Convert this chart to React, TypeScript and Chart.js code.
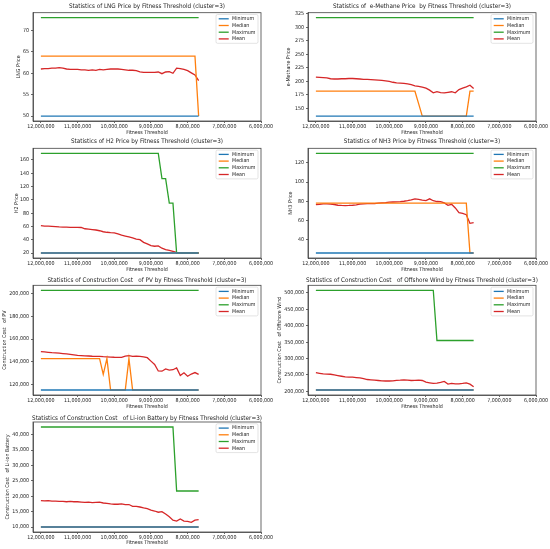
import React, { useEffect, useRef } from "react";
import { Chart, registerables } from "chart.js";

Chart.register(...registerables);

// ---------------- DATA ----------------
const thresholds = [
  12000000, 11900000, 11800000, 11700000, 11600000, 11500000, 11400000, 11300000, 11200000, 11100000,
  11000000, 10900000, 10800000, 10700000, 10600000, 10500000, 10400000, 10300000, 10200000, 10100000,
  10000000, 9900000, 9800000, 9700000, 9600000, 9500000, 9400000, 9300000, 9200000, 9100000,
  9000000, 8900000, 8800000, 8700000, 8600000, 8500000, 8400000, 8300000, 8200000, 8100000,
  8000000, 7900000, 7800000, 7700000,
];
const xTickValues = [6000000, 7000000, 8000000, 9000000, 10000000, 11000000, 12000000];

// LNG Price
const lngMin = [
  50, 50, 50, 50, 50, 50, 50, 50, 50, 50,
  50, 50, 50, 50, 50, 50, 50, 50, 50, 50,
  50, 50, 50, 50, 50, 50, 50, 50, 50, 50,
  50, 50, 50, 50, 50, 50, 50, 50, 50, 50,
  50, 50, 50, 50,
];
const lngMedian = [
  64, 64, 64, 64, 64, 64, 64, 64, 64, 64,
  64, 64, 64, 64, 64, 64, 64, 64, 64, 64,
  64, 64, 64, 64, 64, 64, 64, 64, 64, 64,
  64, 64, 64, 64, 64, 64, 64, 64, 64, 64,
  64, 64, 64, 50,
];
const lngMax = [
  73, 73, 73, 73, 73, 73, 73, 73, 73, 73,
  73, 73, 73, 73, 73, 73, 73, 73, 73, 73,
  73, 73, 73, 73, 73, 73, 73, 73, 73, 73,
  73, 73, 73, 73, 73, 73, 73, 73, 73, 73,
  73, 73, 73, 73,
];
const lngMean = [
  61.0, 61.1, 61.1, 61.2, 61.2, 61.3, 61.2, 61.0, 60.9, 60.9,
  60.9, 60.8, 60.8, 60.7, 60.8, 60.7, 60.9, 60.8, 60.9, 61.0,
  61.0, 61.0, 60.9, 60.8, 60.7, 60.7, 60.6, 60.3, 60.2, 60.2,
  60.2, 60.2, 60.3, 59.9, 60.3, 60.4, 60.0, 61.2, 61.1, 60.9,
  60.6, 60.1, 59.6, 58.3,
];

// e-Methane Price
const methMin = [
  136, 136, 136, 136, 136, 136, 136, 136, 136, 136,
  136, 136, 136, 136, 136, 136, 136, 136, 136, 136,
  136, 136, 136, 136, 136, 136, 136, 136, 136, 136,
  136, 136, 136, 136, 136, 136, 136, 136, 136, 136,
  136, 136, 136, 136,
];
const methMedian = [
  182, 182, 182, 182, 182, 182, 182, 182, 182, 182,
  182, 182, 182, 182, 182, 182, 182, 182, 182, 182,
  182, 182, 182, 182, 182, 182, 182, 182, 159, 136,
  136, 136, 136, 136, 136, 136, 136, 136, 136, 136,
  136, 136, 182, 182,
];
const methMax = [
  318, 318, 318, 318, 318, 318, 318, 318, 318, 318,
  318, 318, 318, 318, 318, 318, 318, 318, 318, 318,
  318, 318, 318, 318, 318, 318, 318, 318, 318, 318,
  318, 318, 318, 318, 318, 318, 318, 318, 318, 318,
  318, 318, 318, 318,
];
const methMean = [
  208, 207.5, 207, 206.5, 205, 204.5, 204.5, 205, 205, 205.5,
  205.5, 205, 204.5, 204, 204, 203.5, 203, 202.5, 202, 201,
  200, 198.5, 197.5, 197, 196.5, 195.5, 194, 192, 191, 189.5,
  187.5, 184, 179, 181, 179.5, 179, 180, 181, 179, 185,
  187.5, 190, 193, 187,
];

// H2 Price
const h2Min = [
  20, 20, 20, 20, 20, 20, 20, 20, 20, 20,
  20, 20, 20, 20, 20, 20, 20, 20, 20, 20,
  20, 20, 20, 20, 20, 20, 20, 20, 20, 20,
  20, 20, 20, 20, 20, 20, 20, 20, 20, 20,
  20, 20, 20, 20,
];
const h2Median = [
  20, 20, 20, 20, 20, 20, 20, 20, 20, 20,
  20, 20, 20, 20, 20, 20, 20, 20, 20, 20,
  20, 20, 20, 20, 20, 20, 20, 20, 20, 20,
  20, 20, 20, 20, 20, 20, 20, 20, 20, 20,
  20, 20, 20, 20,
];
const h2Max = [
  170, 170, 170, 170, 170, 170, 170, 170, 170, 170,
  170, 170, 170, 170, 170, 170, 170, 170, 170, 170,
  170, 170, 170, 170, 170, 170, 170, 170, 170, 170,
  170, 170, 170, 132, 132, 95, 95, 20, 20, 20,
  20, 20, 20, 20,
];
const h2Mean = [
  61.3, 60.5, 60.3, 60.0, 59.6, 59.2, 59.0, 58.8, 58.6, 58.5,
  58.5, 58.4, 56.5, 55.8, 55.2, 54.6, 53.5, 52.0, 51.2, 50.6,
  50.2, 48.8, 46.8, 45.5, 44.2, 42.8, 41.0, 40.0, 36.0, 33.8,
  31.0, 30.2, 30.8, 27.2, 25.0, 23.8, 22.5, 20.8, 20.2, 20.0,
  20.0, 20.0, 20.0, 20.0,
];

// NH3 Price
const nh3Min = [
  26, 26, 26, 26, 26, 26, 26, 26, 26, 26,
  26, 26, 26, 26, 26, 26, 26, 26, 26, 26,
  26, 26, 26, 26, 26, 26, 26, 26, 26, 26,
  26, 26, 26, 26, 26, 26, 26, 26, 26, 26,
  26, 26, 26, 26,
];
const nh3Median = [
  78, 78, 78, 78, 78, 78, 78, 78, 78, 78,
  78, 78, 78, 78, 78, 78, 78, 78, 78, 78,
  78, 78, 78, 78, 78, 78, 78, 78, 78, 78,
  78, 78, 78, 78, 78, 78, 78, 78, 78, 78,
  78, 78, 26, 26,
];
const nh3Max = [
  130, 130, 130, 130, 130, 130, 130, 130, 130, 130,
  130, 130, 130, 130, 130, 130, 130, 130, 130, 130,
  130, 130, 130, 130, 130, 130, 130, 130, 130, 130,
  130, 130, 130, 130, 130, 130, 130, 130, 130, 130,
  130, 130, 130, 130,
];
const nh3Mean = [
  76.5, 76.8, 77.2, 77.2, 77.0, 76.6, 75.8, 75.6, 75.5, 75.6,
  75.8, 76.3, 76.9, 77.3, 77.6, 77.5, 77.6, 78.0, 78.3, 78.6,
  79.0, 79.2, 79.4, 79.6, 80.0, 80.6, 81.4, 82.5, 82.0, 81.2,
  80.7, 82.5, 80.5, 79.7, 79.6, 78.3, 75.8, 76.8, 73.0, 68.0,
  67.3, 66.0, 56.9, 57.6,
];

// Construction Cost of PV
const pvMin = [
  115000, 115000, 115000, 115000, 115000, 115000, 115000, 115000, 115000, 115000,
  115000, 115000, 115000, 115000, 115000, 115000, 115000, 115000, 115000, 115000,
  115000, 115000, 115000, 115000, 115000, 115000, 115000, 115000, 115000, 115000,
  115000, 115000, 115000, 115000, 115000, 115000, 115000, 115000, 115000, 115000,
  115000, 115000, 115000, 115000,
];
const pvMedian = [
  142700, 142700, 142700, 142700, 142700, 142700, 142700, 142700, 142700, 142700,
  142700, 142700, 142700, 142700, 142700, 142700, 142700, 128800, 142700, 115000,
  115000, 115000, 115000, 115000, 142700, 115000, 115000, 115000, 115000, 115000,
  115000, 115000, 115000, 115000, 115000, 115000, 115000, 115000, 115000, 115000,
  115000, 115000, 115000, 115000,
];
const pvMax = [
  203000, 203000, 203000, 203000, 203000, 203000, 203000, 203000, 203000, 203000,
  203000, 203000, 203000, 203000, 203000, 203000, 203000, 203000, 203000, 203000,
  203000, 203000, 203000, 203000, 203000, 203000, 203000, 203000, 203000, 203000,
  203000, 203000, 203000, 203000, 203000, 203000, 203000, 203000, 203000, 203000,
  203000, 203000, 203000, 203000,
];
const pvMean = [
  148900, 148600, 148300, 148000, 147800, 147600, 147200, 146800, 146400, 146000,
  145600, 145400, 145200, 145000, 144800, 144700, 144600, 144400, 144300, 144100,
  143900, 143800, 143800, 145000, 145400, 144700, 144800, 144600, 144300, 143500,
  140500, 137600, 131800, 131600, 133600, 132600, 132900, 134500, 127800, 130200,
  127200, 129100, 130400, 128800,
];

// Construction Cost of Offshore Wind
const windMin = [
  204000, 204000, 204000, 204000, 204000, 204000, 204000, 204000, 204000, 204000,
  204000, 204000, 204000, 204000, 204000, 204000, 204000, 204000, 204000, 204000,
  204000, 204000, 204000, 204000, 204000, 204000, 204000, 204000, 204000, 204000,
  204000, 204000, 204000, 204000, 204000, 204000, 204000, 204000, 204000, 204000,
  204000, 204000, 204000, 204000,
];
const windMedian = [
  204000, 204000, 204000, 204000, 204000, 204000, 204000, 204000, 204000, 204000,
  204000, 204000, 204000, 204000, 204000, 204000, 204000, 204000, 204000, 204000,
  204000, 204000, 204000, 204000, 204000, 204000, 204000, 204000, 204000, 204000,
  204000, 204000, 204000, 204000, 204000, 204000, 204000, 204000, 204000, 204000,
  204000, 204000, 204000, 204000,
];
const windMax = [
  508000, 508000, 508000, 508000, 508000, 508000, 508000, 508000, 508000, 508000,
  508000, 508000, 508000, 508000, 508000, 508000, 508000, 508000, 508000, 508000,
  508000, 508000, 508000, 508000, 508000, 508000, 508000, 508000, 508000, 508000,
  508000, 508000, 508000, 355000, 355000, 355000, 355000, 355000, 355000, 355000,
  355000, 355000, 355000, 355000,
];
const windMean = [
  257000, 255000, 253000, 252500, 252000, 250000, 248000, 246000, 244000, 243500,
  243000, 242000, 241000, 239000, 236000, 235000, 234000, 233000, 232000, 231500,
  231500, 232000, 233500, 234000, 235000, 234000, 233000, 233500, 234000, 233000,
  228000, 226000, 224000, 225000, 227000, 230000, 222000, 224000, 223000, 223000,
  224000, 226000, 222000, 214000,
];

// Construction Cost of Li-ion Battery
const liMin = [
  10000, 10000, 10000, 10000, 10000, 10000, 10000, 10000, 10000, 10000,
  10000, 10000, 10000, 10000, 10000, 10000, 10000, 10000, 10000, 10000,
  10000, 10000, 10000, 10000, 10000, 10000, 10000, 10000, 10000, 10000,
  10000, 10000, 10000, 10000, 10000, 10000, 10000, 10000, 10000, 10000,
  10000, 10000, 10000, 10000,
];
const liMedian = [
  10000, 10000, 10000, 10000, 10000, 10000, 10000, 10000, 10000, 10000,
  10000, 10000, 10000, 10000, 10000, 10000, 10000, 10000, 10000, 10000,
  10000, 10000, 10000, 10000, 10000, 10000, 10000, 10000, 10000, 10000,
  10000, 10000, 10000, 10000, 10000, 10000, 10000, 10000, 10000, 10000,
  10000, 10000, 10000, 10000,
];
const liMax = [
  42500, 42500, 42500, 42500, 42500, 42500, 42500, 42500, 42500, 42500,
  42500, 42500, 42500, 42500, 42500, 42500, 42500, 42500, 42500, 42500,
  42500, 42500, 42500, 42500, 42500, 42500, 42500, 42500, 42500, 42500,
  42500, 42500, 42500, 42500, 42500, 42500, 42500, 21700, 21700, 21700,
  21700, 21700, 21700, 21700,
];
const liMean = [
  18600, 18500, 18600, 18400, 18400, 18300, 18300, 18200, 18300, 18200,
  18200, 18100, 18000, 18100, 17900, 18000, 18100, 17800, 17700, 17500,
  17400, 17400, 17500, 17300, 17300, 16700, 16700, 16500, 16200, 16000,
  15500, 15200, 14800, 15000, 14200, 13300, 12200, 11900, 12600, 11900,
  11800, 11500, 12200, 12400,
];

const seriesLabels = ["Minimum", "Median", "Maximum", "Mean"];

// ---------------- STYLE / LAYOUT ----------------
const FONT = "'DejaVu Sans Condensed', 'DejaVu Sans', sans-serif";
const COLORS = ["#1f77b4", "#ff7f0e", "#2ca02c", "#d62728"];
const TEXT = "#222222";
const AXIS = "#444444";
const TITLE_FS = 6.3;
const FS = 5.3;
const LH = 1.2;
const LINE_W = 1.3;

type Row = { top: number; height: number; titleY: number; plotTop: number; plotBottom: number; xTitleY: number };
const rows: Row[] = [
  { top: 0, height: 137, titleY: 6, plotTop: 12.7, plotBottom: 121, xTitleY: 132.3 },
  { top: 137, height: 136, titleY: 4, plotTop: 11.3, plotBottom: 121, xTitleY: 133 },
  { top: 273, height: 137, titleY: 7.7, plotTop: 12.3, plotBottom: 122, xTitleY: 133.5 },
  { top: 410, height: 139, titleY: 8, plotTop: 12, plotBottom: 122, xTitleY: 132.7 },
];

type PanelCfg = {
  title: string;
  yLabel: string;
  series: number[][];
  yStep: number;
  row: number;
  col: number;
  yTitleX: number;
};

const panels: PanelCfg[] = [
  { title: "Statistics of LNG Price by Fitness Threshold (cluster=3)", yLabel: "LNG Price", series: [lngMin, lngMedian, lngMax, lngMean], yStep: 5, row: 0, col: 0, yTitleX: 19 },
  { title: "Statistics of  e-Methane Price  by Fitness Threshold (cluster=3)", yLabel: "e-Methane Price", series: [methMin, methMedian, methMax, methMean], yStep: 25, row: 0, col: 1, yTitleX: 13.3 },
  { title: "Statistics of H2 Price by Fitness Threshold (cluster=3)", yLabel: "H2 Price", series: [h2Min, h2Median, h2Max, h2Mean], yStep: 20, row: 1, col: 0, yTitleX: 16.7 },
  { title: "Statistics of NH3 Price by Fitness Threshold (cluster=3)", yLabel: "NH3 Price", series: [nh3Min, nh3Median, nh3Max, nh3Mean], yStep: 20, row: 1, col: 1, yTitleX: 16 },
  { title: "Statistics of Construction Cost   of PV by Fitness Threshold (cluster=3)", yLabel: "Construction Cost   of PV", series: [pvMin, pvMedian, pvMax, pvMean], yStep: 20000, row: 2, col: 0, yTitleX: 5 },
  { title: "Statistics of Construction Cost   of Offshore Wind by Fitness Threshold (cluster=3)", yLabel: "Construction Cost   of Offshore Wind", series: [windMin, windMedian, windMax, windMean], yStep: 50000, row: 2, col: 1, yTitleX: 5 },
  { title: "Statistics of Construction Cost   of Li-ion Battery by Fitness Threshold (cluster=3)", yLabel: "Construction Cost   of Li-ion Battery", series: [liMin, liMedian, liMax, liMean], yStep: 5000, row: 3, col: 0, yTitleX: 7.3 },
];

const COL_W = 275;
const Y_AXIS_W = 33;
const PAD_RIGHT = 14;

const mplPlugin = {
  id: "mplDecor",
  afterDraw(chart: any, _args: any, opts: any) {
    const { ctx, chartArea: a } = chart;
    ctx.save();
    // frame (all four spines)
    ctx.strokeStyle = AXIS;
    ctx.lineWidth = 0.8;
    ctx.strokeRect(a.left, a.top, a.right - a.left, a.bottom - a.top);
    // title centred over the axes
    ctx.fillStyle = TEXT;
    ctx.font = `${TITLE_FS}px ${FONT}`;
    ctx.textAlign = "center";
    ctx.textBaseline = "middle";
    ctx.fillText(opts.title, (a.left + a.right) / 2, opts.titleY);
    // legend inside upper right
    const ds = chart.data.datasets;
    ctx.font = `${FS}px ${FONT}`;
    const tw = Math.max(...ds.map((d: any) => ctx.measureText(d.label).width));
    const padL = 2.7, handle = 10, gap = 3.3, padR = 2.5, rowH = 6.7, firstOff = 4.3, lastOff = 4.4;
    const w = padL + handle + gap + tw + padR;
    const h = firstOff + rowH * (ds.length - 1) + lastOff;
    const x0 = a.right - 3 - w;
    const y0 = a.top + 1.8;
    ctx.beginPath();
    (ctx as any).roundRect(x0, y0, w, h, 1.5);
    ctx.fillStyle = "rgba(255,255,255,0.8)";
    ctx.fill();
    ctx.strokeStyle = "#d0d0d0";
    ctx.lineWidth = 0.6;
    ctx.stroke();
    ds.forEach((d: any, i: number) => {
      const cy = y0 + firstOff + rowH * i;
      ctx.strokeStyle = d.borderColor;
      ctx.lineWidth = d.borderWidth;
      ctx.beginPath();
      ctx.moveTo(x0 + padL, cy);
      ctx.lineTo(x0 + padL + handle, cy);
      ctx.stroke();
      ctx.fillStyle = TEXT;
      ctx.textAlign = "left";
      ctx.textBaseline = "middle";
      ctx.fillText(d.label, x0 + padL + handle + gap, cy);
    });
    ctx.restore();
  },
};

function Panel({ cfg }: { cfg: PanelCfg }) {
  const ref = useRef<HTMLCanvasElement>(null);
  const row = rows[cfg.row];
  useEffect(() => {
    if (!ref.current) return;
    const all = cfg.series.flat();
    const lo = Math.min(...all);
    const hi = Math.max(...all);
    const m = (hi - lo) * 0.05;
    const first = thresholds[0];
    const last = thresholds[thresholds.length - 1];
    const xMax = first + (first - last) * 0.05;
    const lh = FS * LH;
    const datasets = cfg.series.map((arr, k) => ({
      label: seriesLabels[k],
      data: thresholds.map((x, i) => ({ x, y: arr[i] })),
      borderColor: COLORS[k],
      backgroundColor: COLORS[k],
      borderWidth: LINE_W,
      pointRadius: 0,
      tension: 0,
      fill: false,
    }));
    const chart = new Chart(ref.current, {
      type: "line",
      data: { datasets },
      plugins: [mplPlugin],
      options: {
        animation: false,
        responsive: false,
        events: [],
        layout: { padding: { top: row.plotTop, left: 0, right: PAD_RIGHT, bottom: 0 } },
        plugins: {
          legend: { display: false },
          title: { display: false },
          tooltip: { enabled: false },
          mplDecor: { title: cfg.title, titleY: row.titleY },
        } as any,
        scales: {
          x: {
            type: "linear",
            reverse: true,
            min: 6000000,
            max: xMax,
            afterBuildTicks: (s: any) => {
              s.ticks = xTickValues.map((v) => ({ value: v }));
            },
            afterFit: (s: any) => {
              s.height = row.height - row.plotBottom;
            },
            ticks: {
              autoSkip: false,
              maxRotation: 0,
              padding: 0.5,
              color: TEXT,
              font: { family: FONT, size: FS },
              callback: (v: any) => Number(v).toLocaleString("en-US"),
            },
            grid: { drawOnChartArea: false, drawTicks: true, tickLength: 2, tickColor: AXIS, tickWidth: 0.8 },
            border: { display: true, color: AXIS, width: 0.8 },
            title: {
              display: true,
              text: "Fitness Threshold",
              color: TEXT,
              font: { family: FONT, size: FS, lineHeight: LH },
              padding: { top: 0, bottom: row.height - row.xTitleY - lh / 2 },
            },
          },
          y: {
            type: "linear",
            min: lo - m,
            max: hi + m,
            afterBuildTicks: (s: any) => {
              const t: { value: number }[] = [];
              for (let v = Math.ceil((lo - m) / cfg.yStep) * cfg.yStep; v <= hi + m; v += cfg.yStep) t.push({ value: v });
              s.ticks = t;
            },
            afterFit: (s: any) => {
              s.width = Y_AXIS_W;
            },
            ticks: {
              autoSkip: false,
              padding: 2,
              color: TEXT,
              font: { family: FONT, size: FS },
              callback: (v: any) => Number(v).toLocaleString("en-US"),
            },
            grid: { drawOnChartArea: false, drawTicks: true, tickLength: 2, tickColor: AXIS, tickWidth: 0.8 },
            border: { display: true, color: AXIS, width: 0.8 },
            title: {
              display: true,
              text: cfg.yLabel,
              color: TEXT,
              font: { family: FONT, size: FS, lineHeight: LH },
              padding: { top: cfg.yTitleX - lh / 2, bottom: 0 },
            },
          },
        },
      } as any,
    });
    return () => chart.destroy();
  }, []);
  return (
    <canvas
      ref={ref}
      width={COL_W}
      height={row.height}
      style={{ position: "absolute", left: cfg.col * COL_W, top: row.top, width: COL_W, height: row.height }}
    />
  );
}

export default function App() {
  return (
    <div style={{ position: "absolute", left: 0, top: 0, width: 550, height: 549, background: "#ffffff", overflow: "hidden" }}>
      {panels.map((p, i) => (
        <Panel key={i} cfg={p} />
      ))}
    </div>
  );
}
